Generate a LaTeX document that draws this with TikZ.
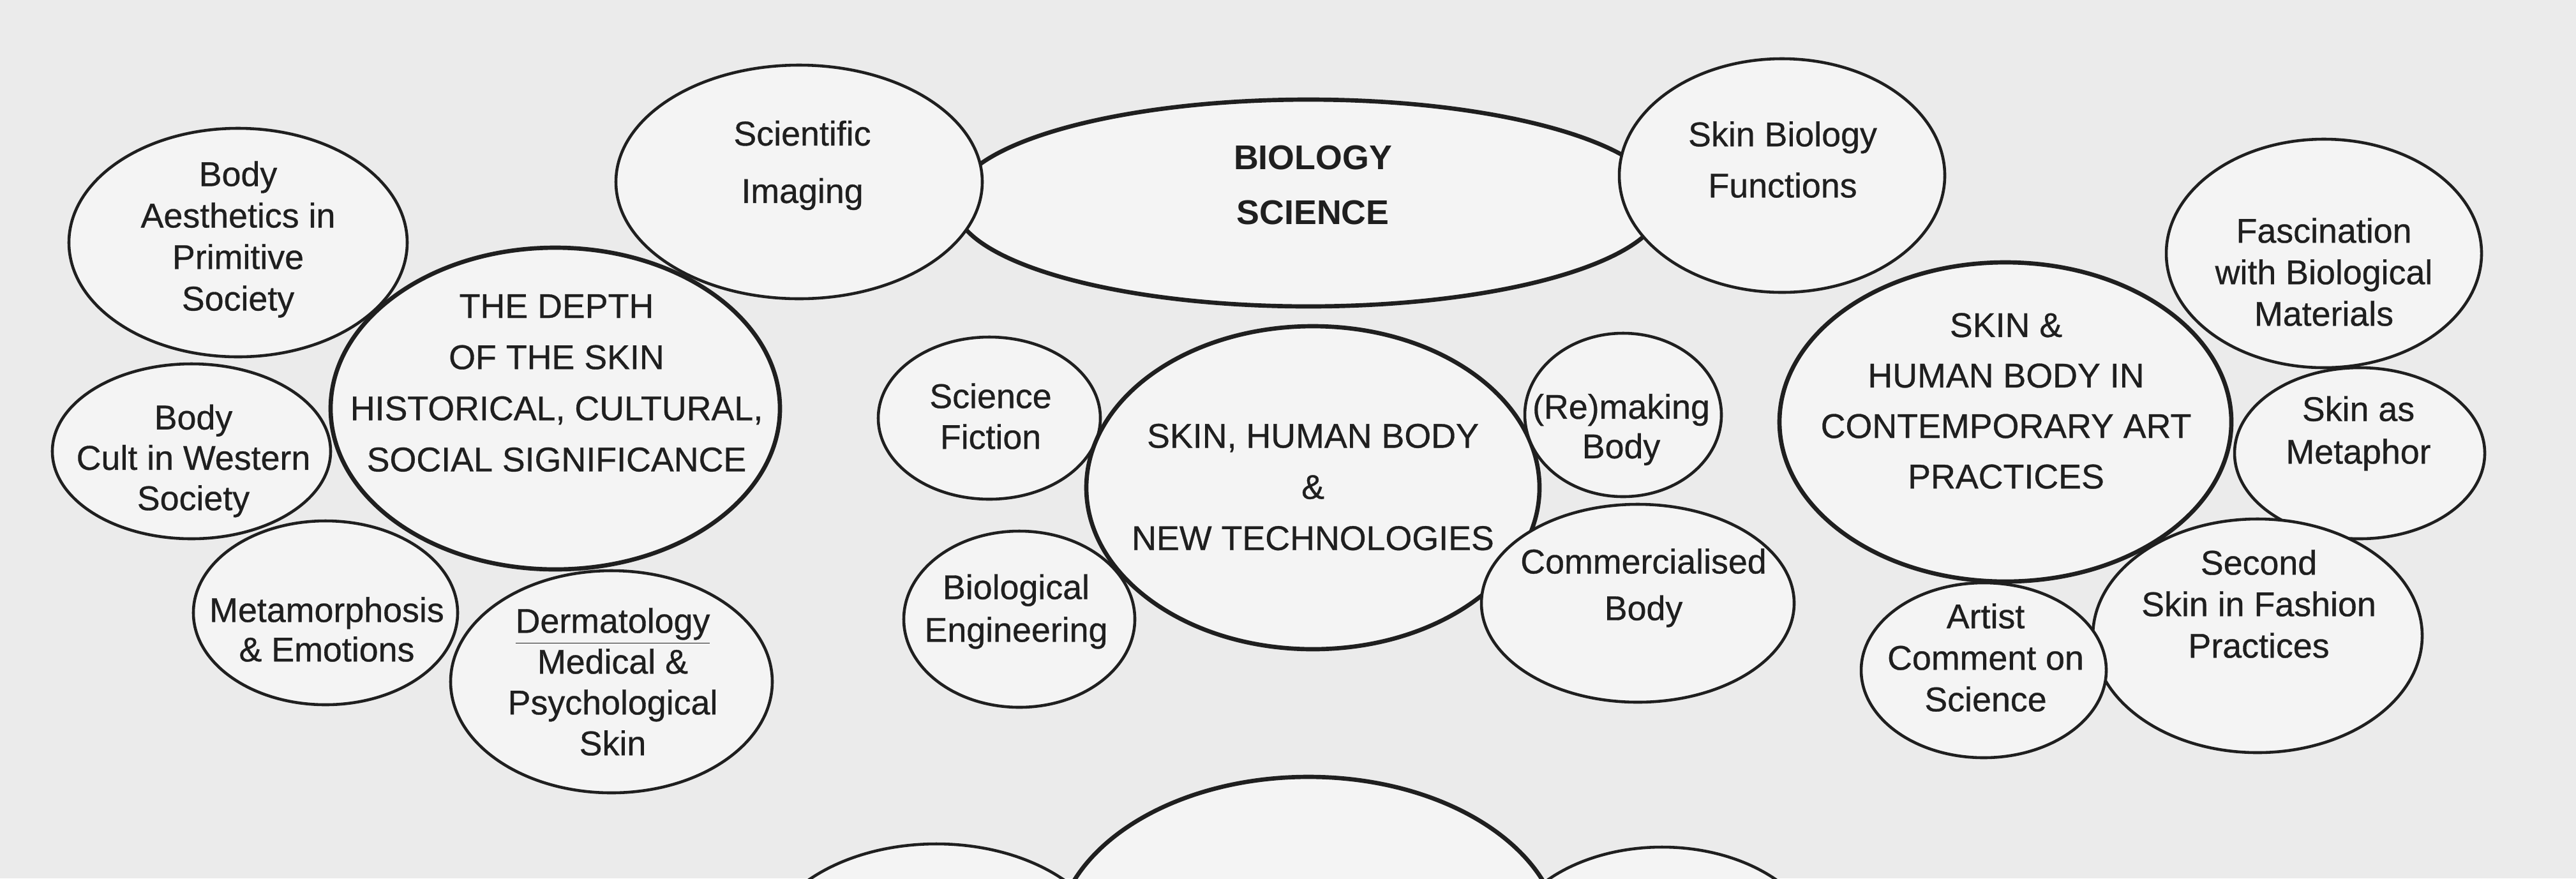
\documentclass[tikz,border=0pt]{standalone}
\usepackage{fontspec}
\setmainfont{Liberation Sans}[UprightFeatures={FakeBold=0.6}]
\definecolor{ink}{gray}{0.12}
\definecolor{paper}{gray}{0.92}
\definecolor{cloud}{gray}{0.955}
\tikzset{
	bubble/.style={draw=ink, fill=cloud, line width=1.3pt},
	big bubble/.style={bubble, line width=1.9pt},
	lbl/.style={align=center, inner sep=0pt, text=ink, font=\fontsize{15.3}{#1}\selectfont},
	lbl/.default=18.5pt
}
\begin{document}
\begin{tikzpicture}
	\useasboundingbox (0,0) rectangle (40.36,-13.76);
	\fill [paper] (0,0) rectangle (40.36,-13.76);
	\clip (0,0) rectangle (40.36,-13.76);
	\draw [big bubble] (20.50,-3.18) ellipse [x radius=5.55, y radius=1.62];
	\draw [bubble] (12.52,-2.85) ellipse [x radius=2.87, y radius=1.83];
	\draw [bubble] (27.92,-2.75) ellipse [x radius=2.55, y radius=1.83];
	\draw [bubble] (3.73,-3.80) ellipse [x radius=2.65, y radius=1.79];
	\draw [big bubble] (8.70,-6.40) ellipse [x radius=3.52, y radius=2.52];
	\draw [bubble] (3.00,-7.07) ellipse [x radius=2.18, y radius=1.37];
	\draw [bubble] (5.10,-9.60) ellipse [x radius=2.07, y radius=1.44];
	\draw [bubble] (9.58,-10.68) ellipse [x radius=2.52, y radius=1.74];
	\draw [bubble] (15.50,-6.55) ellipse [x radius=1.74, y radius=1.27];
	\draw [big bubble] (20.57,-7.64) ellipse [x radius=3.55, y radius=2.53];
	\draw [bubble] (15.97,-9.70) ellipse [x radius=1.81, y radius=1.38];
	\draw [bubble] (25.43,-6.50) ellipse [x radius=1.54, y radius=1.28];
	\draw [bubble] (25.66,-9.45) ellipse [x radius=2.45, y radius=1.55];
	\draw [big bubble] (31.42,-6.61) ellipse [x radius=3.54, y radius=2.50];
	\draw [bubble] (36.41,-3.97) ellipse [x radius=2.47, y radius=1.79];
	\draw [bubble] (36.97,-7.10) ellipse [x radius=1.96, y radius=1.34];
	\draw [bubble] (35.37,-9.96) ellipse [x radius=2.58, y radius=1.83];
	\draw [bubble] (31.08,-10.50) ellipse [x radius=1.92, y radius=1.37];
	\draw [bubble] (14.67,-15.02) ellipse [x radius=2.75, y radius=1.80];
	\draw [big bubble] (20.50,-14.77) ellipse [x radius=3.96, y radius=2.60];
	\draw [bubble] (26.04,-14.97) ellipse [x radius=2.50, y radius=1.70];
	\node [lbl=25.6pt] (imaging) at (12.57,-2.59) {Scientific\\Imaging};
	\node [lbl=24.2pt] (biology) at (20.57,-2.90) {\textbf{BIOLOGY}\\\textbf{SCIENCE}};
	\node [lbl=22.8pt] (functions) at (27.93,-2.50) {Skin Biology\\Functions};
	\node [lbl] (aesthetics) at (3.73,-3.75) {Body\\Aesthetics in\\Primitive\\Society};
	\node [lbl=22.8pt] (depth) at (8.72,-6.00) {THE DEPTH\\OF THE SKIN\\HISTORICAL, CULTURAL,\\SOCIAL SIGNIFICANCE};
	\node [lbl=18pt] (cult) at (3.03,-7.22) {Body\\Cult in Western\\Society};
	\node [lbl=17.6pt] (emotions) at (5.12,-9.86) {Metamorphosis\\\& Emotions};
	\node [lbl=18.2pt] (dermatology) at (9.60,-10.68) {\underline{Dermatology}\\Medical \&\\Psychological\\Skin};
	\node [lbl=18.2pt] (fiction) at (15.52,-6.52) {Science\\Fiction};
	\node [lbl=22.8pt] (technologies) at (20.57,-7.63) {SKIN, HUMAN BODY\\\&\\NEW TECHNOLOGIES};
	\node [lbl=19pt] (engineering) at (15.92,-9.58) {Biological\\Engineering};
	\node [lbl=17.6pt] (remaking) at (25.40,-6.73) {(Re)making\\Body};
	\node [lbl=20.8pt] (commercial) at (25.75,-9.21) {Commercialised\\Body};
	\node [lbl=22.5pt] (artpractice) at (31.43,-6.28) {SKIN \&\\HUMAN BODY IN\\CONTEMPORARY ART\\PRACTICES};
	\node [lbl] (fascination) at (36.41,-4.26) {Fascination\\with Biological\\Materials};
	\node [lbl=19pt] (metaphor) at (36.95,-6.79) {Skin as\\Metaphor};
	\node [lbl] (fashion) at (35.39,-9.46) {Second\\Skin in Fashion\\Practices};
	\node [lbl] (artist) at (31.11,-10.30) {Artist\\Comment on\\Science};
\end{tikzpicture}
\end{document}
